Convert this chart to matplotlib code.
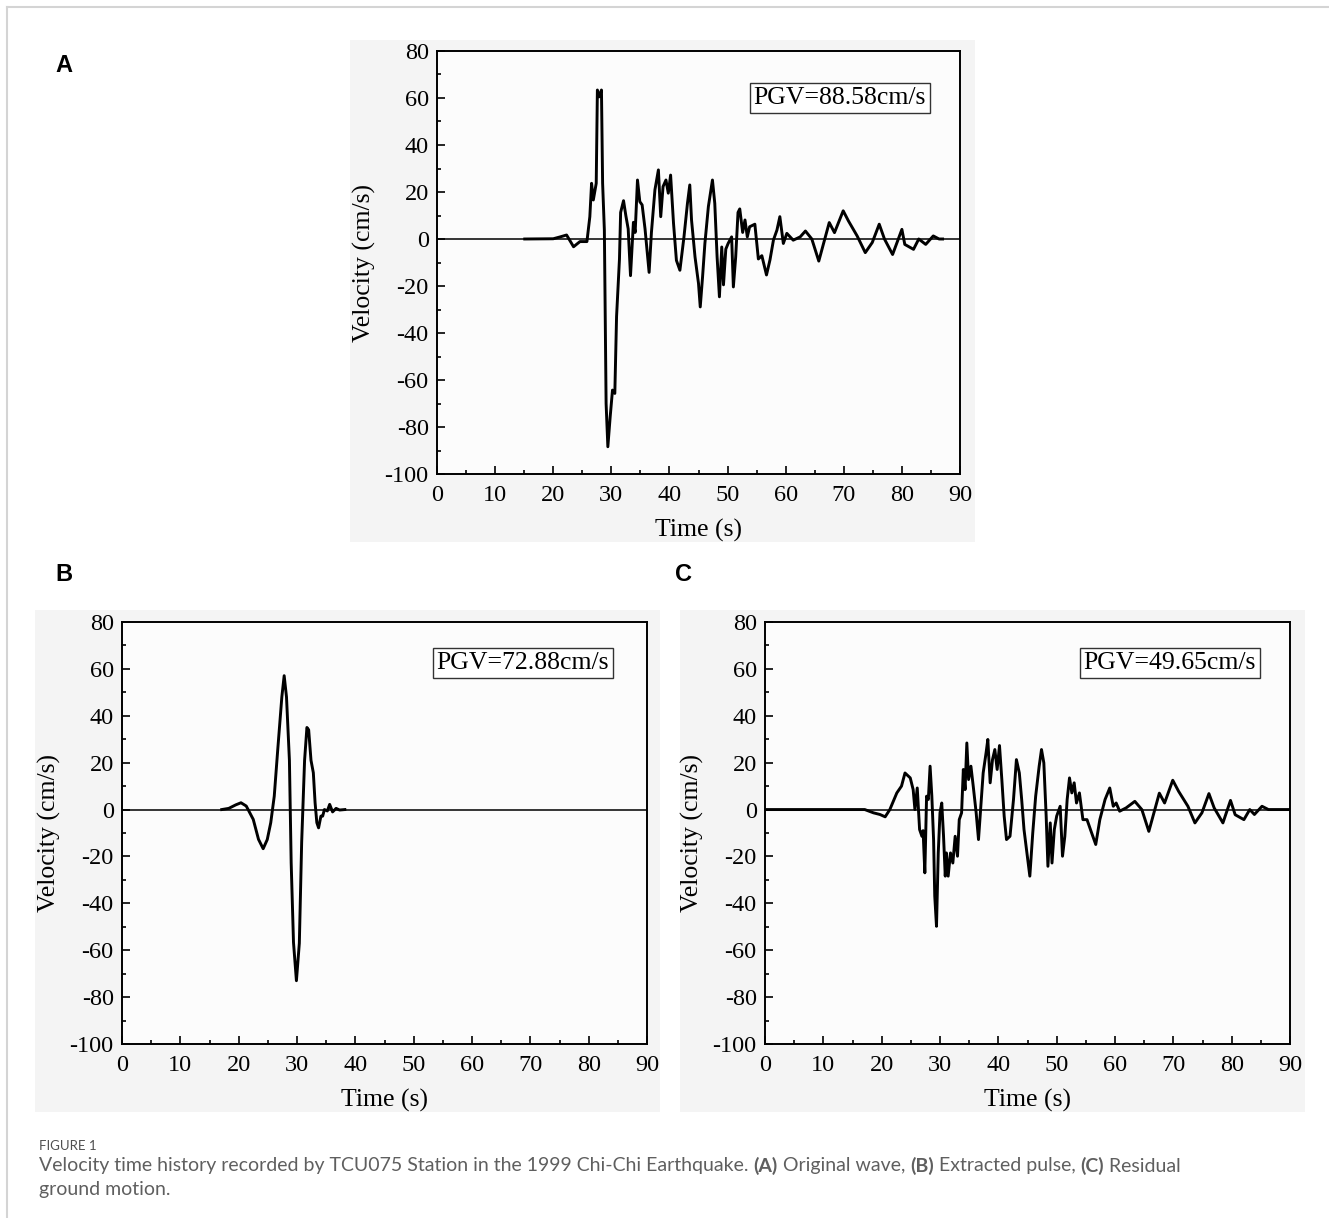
import numpy as np
import matplotlib
matplotlib.use("Agg")
import matplotlib.pyplot as plt
from matplotlib.patches import Rectangle
from matplotlib.lines import Line2D
from matplotlib.ticker import MultipleLocator

plt.rcParams['axes.unicode_minus'] = False

# ---------------------------------------------------------
# data (time s, velocity cm/s)
# ---------------------------------------------------------

# (A) original wave
t_a = [15.1, 20.0, 21.2, 22.3, 23.5, 24.6, 25.8, 26.3, 26.6, 26.9, 27.4, 27.6,
       27.9, 28.3, 28.5, 28.8, 29.1, 29.4, 29.8, 30.2, 30.6, 30.9, 31.4, 31.6,
       32.1, 32.5, 32.9, 33.3, 33.8, 34.1, 34.5, 34.9, 35.3, 35.8, 36.5, 36.9,
       37.5, 38.1, 38.5, 38.9, 39.4, 39.8, 40.2, 40.7, 41.2, 41.8, 42.5, 43.1,
       43.5, 43.8, 44.4, 45.0, 45.3, 45.7, 46.1, 46.7, 47.4, 47.8, 48.2, 48.6,
       49.0, 49.3, 49.7, 50.1, 50.7, 51.0, 51.4, 51.8, 52.1, 52.6, 53.0, 53.4,
       53.8, 54.7, 55.3, 55.9, 56.7, 57.3, 57.9, 58.5, 59.0, 59.6, 60.2, 61.3,
       62.5, 63.4, 64.5, 65.7, 67.5, 68.4, 69.9, 70.8, 72.3, 73.7, 74.9, 76.1,
       77.0, 78.4, 80.0, 80.5, 82.0, 82.9, 84.1, 85.4, 86.4, 87.0]
v_a = [0.0, 0.1, 0.9, 1.7, -3.3, -1.1, -1.1, 9.5, 23.7, 16.6, 23.7, 63.4,
       60.5, 63.4, 23.7, 3.8, -70.0, -88.4, -75.7, -64.3, -65.7, -33.0, -8.5, 11.3,
       16.3, 9.9, 4.3, -15.6, 7.1, 2.8, 25.1, 15.9, 14.5, 4.3, -14.2, 2.8,
       20.9, 29.4, 9.5, 22.3, 25.1, 19.5, 27.2, 6.7, -9.1, -13.3, 0.9, 15.2,
       23.0, 8.1, -7.6, -18.9, -28.9, -16.1, -1.9, 13.8, 25.1, 15.2, -7.6, -24.6,
       -3.4, -19.5, -4.3, -1.9, 0.9, -20.4, -7.6, 11.3, 12.8, 2.8, 8.1, 0.9,
       5.2, 6.3, -8.5, -7.1, -15.3, -8.9, -0.4, 3.8, 9.5, -1.9, 2.4, -0.5,
       0.9, 3.4, 0.0, -9.4, 7.0, 2.7, 12.0, 7.7, 1.3, -5.8, -1.5, 6.3,
       0.0, -6.6, 4.1, -2.3, -4.4, 0.0, -2.3, 1.3, 0.0, 0.0]

# (B) extracted pulse
t_b = [17.1, 18.3, 19.5, 20.4, 21.3, 22.5, 23.4, 24.2, 24.9, 25.5, 26.1, 26.7,
       27.4, 27.8, 28.2, 28.7, 29.0, 29.4, 29.9, 30.4, 30.8, 31.3, 31.7, 32.0,
       32.4, 32.8, 33.1, 33.4, 33.7, 34.1, 34.4, 34.7, 35.2, 35.6, 36.1, 36.7,
       37.3, 38.2]
v_b = [0.0, 0.5, 2.0, 2.9, 1.5, -4.2, -12.7, -16.7, -12.8, -5.6, 5.7, 25.6,
       48.0, 57.1, 48.0, 21.0, -22.6, -56.7, -73.0, -57.0, -14.0, 21.0, 35.0, 34.0,
       21.0, 15.7, 2.9, -5.6, -7.8, -2.8, -2.8, 0.0, -0.6, 2.2, -1.0, 0.5,
       -0.2, 0.0]

# (C) residual ground motion
t_c = [0.0, 17.1, 18.6, 19.7, 20.6, 21.4, 22.6, 23.4, 24.0, 24.9, 25.4, 25.7,
       26.1, 26.5, 26.9, 27.1, 27.4, 27.7, 28.0, 28.3, 28.6, 28.9, 29.1, 29.4,
       29.7, 30.0, 30.3, 30.6, 30.9, 31.1, 31.4, 31.8, 32.2, 32.6, 33.0, 33.3,
       33.7, 34.0, 34.3, 34.6, 34.9, 35.3, 35.7, 36.2, 36.6, 37.0, 37.4, 37.9,
       38.2, 38.6, 39.0, 39.4, 39.8, 40.2, 40.6, 41.0, 41.4, 42.0, 42.6, 43.1,
       43.6, 44.0, 44.4, 44.9, 45.4, 45.9, 46.4, 47.0, 47.4, 47.8, 48.2, 48.5,
       48.9, 49.2, 49.6, 50.0, 50.6, 51.0, 51.4, 51.8, 52.2, 52.6, 53.0, 53.4,
       53.9, 54.5, 55.2, 56.0, 56.7, 57.4, 58.3, 59.1, 59.7, 60.2, 60.8, 61.9,
       63.4, 64.6, 65.8, 67.6, 68.5, 69.9, 70.9, 72.5, 73.7, 74.9, 76.1, 77.0,
       78.5, 79.8, 80.6, 82.1, 83.1, 83.9, 85.2, 86.3, 90.0]
v_c = [0.0, 0.0, -1.4, -2.1, -3.1, 0.0, 7.1, 10.0, 15.6, 13.5, 8.5, 0.0,
       9.2, -8.5, -11.4, -9.0, -27.0, 5.7, 4.3, 18.5, 5.7, -12.8, -36.9, -49.8,
       -18.5, -1.4, 2.8, -11.0, -28.4, -18.5, -28.4, -18.5, -22.8, -11.4, -19.9, -4.3,
       -1.4, 17.1, 8.5, 28.4, 12.8, 18.5, 9.9, -1.4, -12.8, 1.4, 15.6, 24.2,
       29.9, 11.4, 21.3, 25.6, 17.1, 27.3, 12.8, -2.8, -12.8, -11.4, 4.3, 21.3,
       15.6, 4.3, -8.5, -18.5, -28.4, -10.0, 5.7, 18.5, 25.6, 19.9, -2.8, -24.2,
       -5.7, -22.8, -8.5, -2.8, 1.4, -19.9, -11.4, 4.3, 13.5, 7.1, 11.4, 2.8,
       7.1, -4.3, -4.3, -10.0, -14.9, -4.3, 4.3, 9.2, 1.4, 2.8, -0.7, 0.7,
       3.5, 0.0, -9.3, 7.0, 2.8, 12.5, 7.8, 1.4, -5.7, -1.4, 6.8, 0.7,
       -5.7, 3.9, -2.2, -4.3, 0.0, -2.1, 1.4, 0.0, 0.0]

pgv_labels = ["PGV=88.58cm/s", "PGV=72.88cm/s", "PGV=49.65cm/s"]
panel_letters = ["A", "B", "C"]
x_ticks = list(range(0, 91, 10))
y_ticks = list(range(-100, 81, 20))

W, H = 1329, 1218
fig = plt.figure(figsize=(W / 100, H / 100), dpi=100)
fig.patch.set_facecolor('white')


def px_box(x0, y0, x1, y1):
    # pixel box (top-left origin) -> figure fraction [left, bottom, w, h]
    return [x0 / W, 1 - y1 / H, (x1 - x0) / W, (y1 - y0) / H]


# page frame lines (top + left)
fig.add_artist(Line2D([7 / W, 1], [1 - 7 / H, 1 - 7 / H], color='#d4d4d4', lw=1.5))
fig.add_artist(Line2D([7 / W, 7 / W], [0, 1 - 7 / H], color='#d4d4d4', lw=1.5))

# light grey backing of each scanned panel image
for (x0, y0, x1, y1) in [(350, 40, 975, 542), (35, 610, 660, 1112), (680, 610, 1305, 1112)]:
    b = px_box(x0, y0, x1, y1)
    fig.add_artist(Rectangle((b[0], b[1]), b[2], b[3], transform=fig.transFigure,
                             facecolor='#f4f4f4', edgecolor='none', zorder=0))

axes_px = [(437, 51, 960, 474), (122, 622, 647, 1044), (765, 622, 1290, 1044)]
box_pos = [(0.935, 0.915), (0.928, 0.929), (0.935, 0.929)]
series = [(t_a, v_a), (t_b, v_b), (t_c, v_c)]

serif = 'Liberation Serif'
for i, (ap, (t, v)) in enumerate(zip(axes_px, series)):
    ax = fig.add_axes(px_box(*ap))
    ax.set_facecolor('#fcfcfc')
    ax.axhline(0, color='black', lw=1.1, zorder=2)
    ax.plot(t, v, color='black', lw=2.1, zorder=3)
    ax.set_xlim(0, 90)
    ax.set_ylim(-100, 80)
    ax.set_xticks(x_ticks)
    ax.set_yticks(y_ticks)
    ax.xaxis.set_minor_locator(MultipleLocator(5))
    ax.yaxis.set_minor_locator(MultipleLocator(10))
    ax.tick_params(which='both', direction='in', top=False, right=False, width=1.2,
                   labelsize=17.5)
    ax.tick_params(axis='x', pad=8)
    ax.tick_params(axis='y', pad=6)
    ax.tick_params(which='major', length=5.5)
    ax.tick_params(which='minor', length=3)
    for lab in ax.get_xticklabels() + ax.get_yticklabels():
        lab.set_family(serif)
    for sp in ax.spines.values():
        sp.set_linewidth(1.4)
    ax.set_xlabel('Time (s)', family=serif, fontsize=18.5, labelpad=9)
    ax.set_ylabel('Velocity (cm/s)', family=serif, fontsize=18.5, labelpad=6)
    bx, by = box_pos[i]
    ax.text(bx, by, pgv_labels[i], transform=ax.transAxes, ha='right', va='top',
            family=serif, fontsize=18.5, zorder=5,
            bbox=dict(boxstyle='square,pad=0.15', facecolor='white',
                      edgecolor='#333333', lw=1.0))

# panel letters
for letter, (x, y) in zip(panel_letters, [(64, 65), (64, 575), (684, 575)]):
    fig.text(x / W, 1 - y / H, letter, ha='center', va='center',
             family='Liberation Sans', fontweight='bold', fontsize=17)

# caption
cap_font = ['Lato', 'DejaVu Sans']
cap_col = '#5f5f5f'
fig.text(39 / W, 1 - 1146 / H, 'FIGURE 1', ha='left', va='center',
         family=cap_font, fontsize=9.5, color='#505050')

runs = [("Velocity time history recorded by TCU075 Station in the 1999 Chi-Chi Earthquake. ", 'normal'),
        ("(A)", 'bold'), (" Original wave, ", 'normal'),
        ("(B)", 'bold'), (" Extracted pulse, ", 'normal'),
        ("(C)", 'bold'), (" Residual", 'normal')]
renderer = fig.canvas.get_renderer()

# size the caption so the first line spans the same width as in the figure
probe = fig.text(0, 0, "".join(r[0] for r in runs), family=cap_font, fontsize=12)
cap_size = 12 * 1136 / probe.get_window_extent(renderer=renderer).width
probe.remove()

xpos = 39
for txt, wt in runs:
    tt = fig.text(xpos / W, 1 - 1166 / H, txt, ha='left', va='center',
                  family=cap_font, fontsize=cap_size, color=cap_col, fontweight=wt)
    xpos += tt.get_window_extent(renderer=renderer).width
fig.text(39 / W, 1 - 1190 / H, 'ground motion.', ha='left', va='center',
         family=cap_font, fontsize=cap_size, color=cap_col)

fig.savefig('out.png', dpi=100, facecolor='white')
